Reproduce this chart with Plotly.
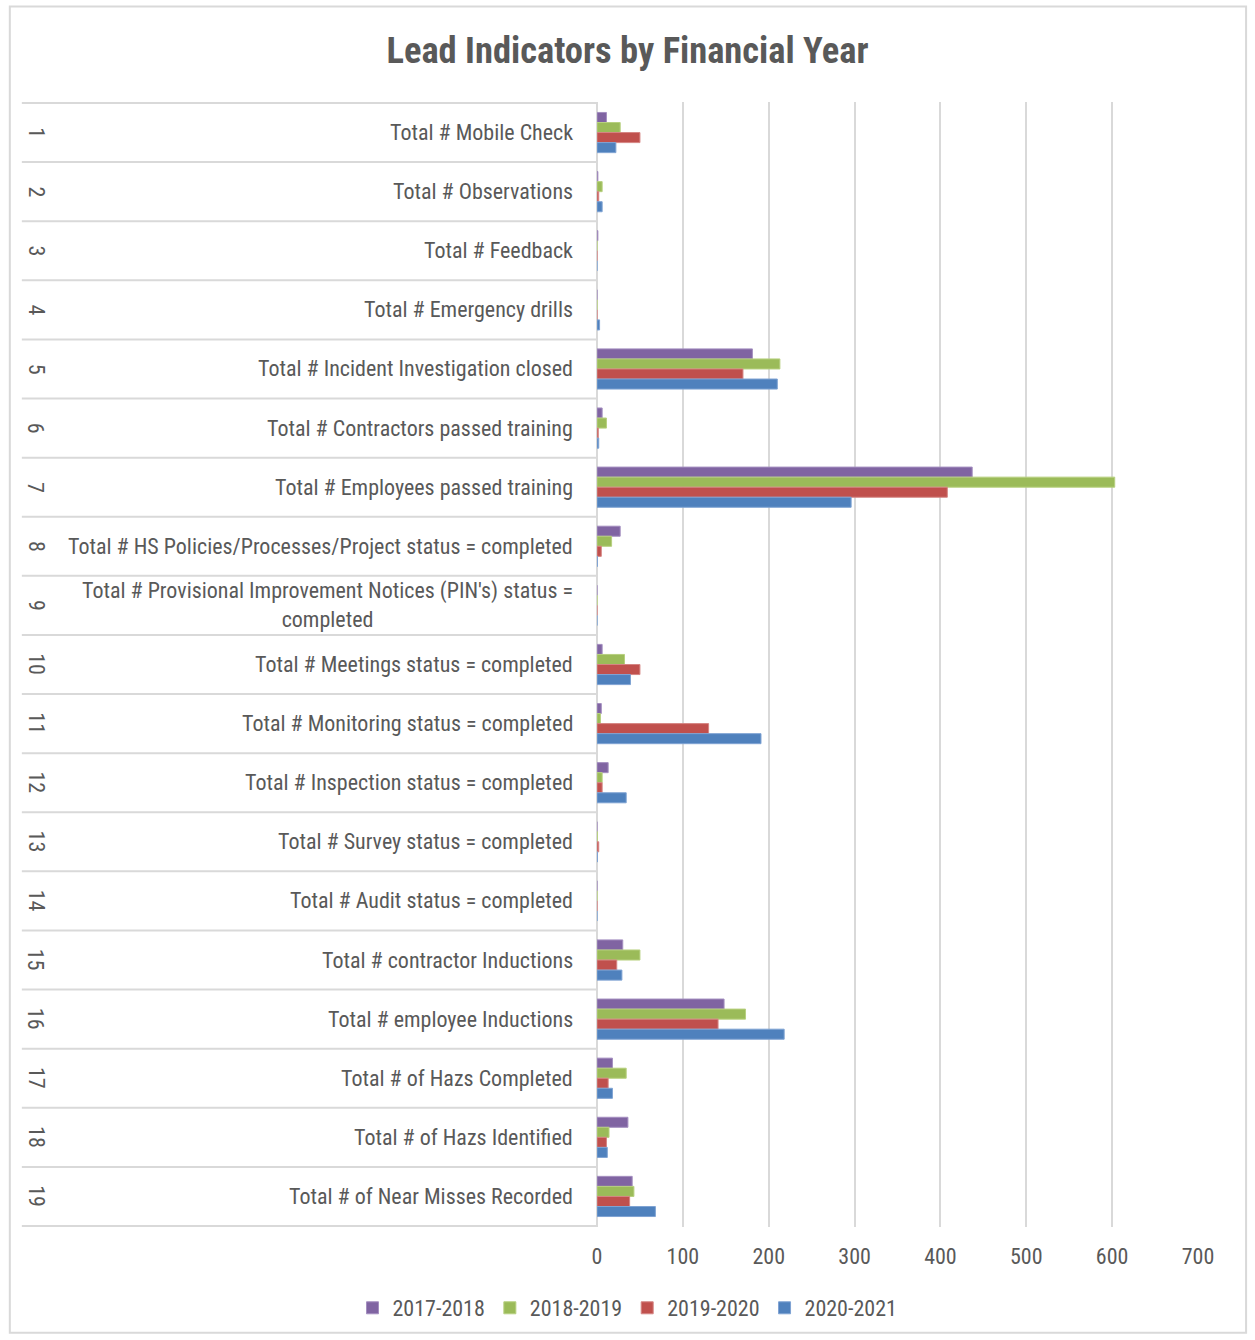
import plotly.graph_objects as go

categories = [str(i) for i in range(1, 20)]
labels = [
    "Total # Mobile Check",
    "Total # Observations",
    "Total # Feedback",
    "Total # Emergency drills",
    "Total # Incident Investigation closed",
    "Total # Contractors passed training",
    "Total # Employees passed training",
    "Total # HS Policies/Processes/Project status = completed",
    "Total # Provisional Improvement Notices (PIN's) status =<br>completed",
    "Total # Meetings status = completed",
    "Total # Monitoring status = completed",
    "Total # Inspection status = completed",
    "Total # Survey status = completed",
    "Total # Audit status = completed",
    "Total # contractor Inductions",
    "Total # employee Inductions",
    "Total # of Hazs Completed",
    "Total # of Hazs Identified",
    "Total # of Near Misses Recorded",
]
series_names = ["2017-2018", "2018-2019", "2019-2020", "2020-2021"]
v2017_2018 = [11, 1, 1, 0, 181, 6, 437, 27, 0, 6, 5, 13, 0, 0, 30, 148, 18, 36, 41]
v2018_2019 = [27, 6, 0, 0, 213, 11, 603, 17, 0, 32, 4, 6, 0.5, 0, 50, 173, 34, 14, 43]
v2019_2020 = [50, 2, 0, 0, 170, 1.5, 408, 5, 0, 50, 130, 6, 2, 0, 23, 141, 13, 11, 38]
v2020_2021 = [22, 6, 0, 3, 210, 2, 296, 0.5, 0, 39, 191, 34, 0.5, 0, 29, 218, 18, 12, 68]
x_ticks = [0, 100, 200, 300, 400, 500, 600, 700]

colors = ["#8064A2", "#9BBB59", "#C0504D", "#4F81BD"]
borders = ["#A48FC0", "#B7D07F", "#D58583", "#7FA3D3"]
values = [v2017_2018, v2018_2019, v2019_2020, v2020_2021]

FONT = "Liberation Sans Narrow, Arial Narrow, Roboto Condensed, sans-serif"
GRAY = "#595959"

fig = go.Figure()
for name, vals, c, b in zip(series_names, values, colors, borders):
    fig.add_trace(go.Bar(
        y=categories, x=vals, name=name, orientation="h",
        marker=dict(color=c, line=dict(color=b, width=1)),
    ))

annotations = []
for idx, (cat, lab) in enumerate(zip(categories, labels)):
    annotations.append(dict(
        x=-0.037, xref="paper", y=idx, yref="y", text=lab,
        showarrow=False, xanchor="right", yanchor="middle", align="center",
        font=dict(family=FONT, size=22, color=GRAY),
    ))
    annotations.append(dict(
        x=-0.933, xref="paper", y=idx, yref="y", text=cat, textangle=90,
        showarrow=False, xanchor="center", yanchor="middle",
        font=dict(family=FONT, size=22, color=GRAY),
    ))

shapes = []
for i in range(len(categories) + 1):
    shapes.append(dict(
        type="line", xref="paper", yref="y", x0=-0.957, x1=0,
        y0=i - 0.5, y1=i - 0.5, line=dict(color="#D9D9D9", width=2),
    ))
shapes.append(dict(
    type="rect", xref="paper", yref="paper", x0=-0.977, x1=1.08,
    y0=-0.094, y1=1.085, line=dict(color="#D9D9D9", width=2),
    layer="below",
))

fig.update_layout(
    width=1255, height=1340,
    margin=dict(l=597, r=57, t=102, b=113),
    paper_bgcolor="white", plot_bgcolor="white",
    barmode="group", bargap=0.32, bargroupgap=0,
    title=dict(
        text="<b>Lead Indicators by Financial Year</b>",
        x=0.5, xref="container", xanchor="center",
        y=1 - 50 / 1340, yref="container", yanchor="middle",
        font=dict(family=FONT, size=36.5, color=GRAY),
    ),
    xaxis=dict(
        range=[0, 700], tickvals=x_ticks, showgrid=True,
        gridcolor="#D9D9D9", gridwidth=2, zeroline=True,
        zerolinecolor="#D9D9D9", zerolinewidth=2,
        ticks="outside", ticklen=10, tickcolor="rgba(0,0,0,0)",
        tickfont=dict(family=FONT, size=22, color=GRAY),
    ),
    yaxis=dict(
        type="category", categoryorder="array", categoryarray=categories,
        autorange="reversed", showticklabels=False, showgrid=False,
        zeroline=False,
    ),
    legend=dict(
        orientation="h", xref="container", x=0.5, xanchor="center",
        yref="container", y=1 - 1308 / 1340, yanchor="middle",
        font=dict(family=FONT, size=22, color=GRAY),
        itemwidth=30,
    ),
    annotations=annotations,
    shapes=shapes,
)

fig.write_html("out.html")
